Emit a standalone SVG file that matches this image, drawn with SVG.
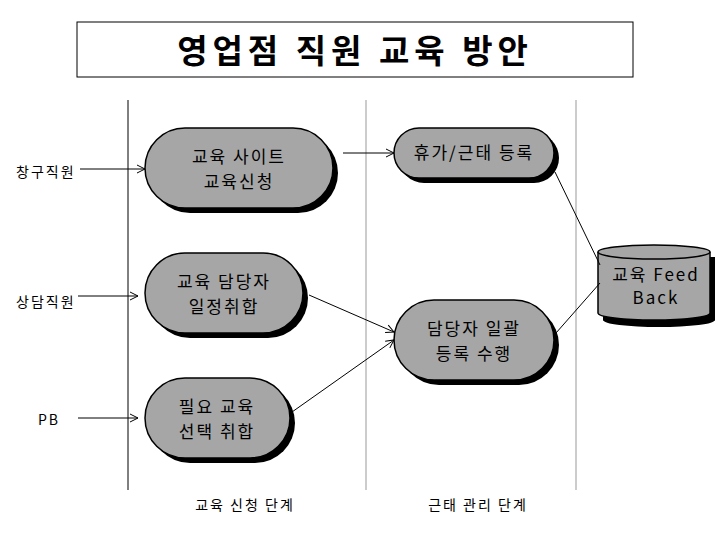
<svg xmlns="http://www.w3.org/2000/svg" width="720" height="540" viewBox="0 0 720 540">
<defs>
<marker id="ah" markerWidth="10" markerHeight="10" refX="9" refY="5" orient="auto" markerUnits="userSpaceOnUse"><path d="M1,1 L9,5 L1,9" fill="none" stroke="#000" stroke-width="1"/></marker>
</defs>
<style>
text{font-family:"Noto Sans CJK KR","Liberation Sans",sans-serif;fill:#000}
.n{fill:#a6a6a6;stroke:#000;stroke-width:1.5}
.s{fill:#000}
.t{font-size:17px;text-anchor:middle;letter-spacing:2px}
.l{font-size:14px;letter-spacing:2px}
.c{stroke:#000;stroke-width:1;fill:none}
</style>
<rect width="720" height="540" fill="#fff"/>
<g id="title"><rect x="77" y="22" width="556" height="55" fill="#fff" stroke="#000"/>
<text x="355" y="63" font-size="33" font-weight="bold" letter-spacing="5" text-anchor="middle">영업점 직원 교육 방안</text></g>
<g id="lanes">
<line x1="128" y1="100" x2="128" y2="490" stroke="#000"/>
<line x1="366" y1="100" x2="366" y2="490" stroke="#999"/>
<line x1="576" y1="100" x2="576" y2="490" stroke="#999"/>
<text x="245" y="510" class="l" text-anchor="middle">교육 신청 단계</text>
<text x="478" y="510" class="l" text-anchor="middle">근태 관리 단계</text>
</g>
<g id="actors">
<text x="16" y="177" class="l">창구직원</text>
<text x="16" y="307" class="l">상담직원</text>
<text x="38" y="425" class="l">PB</text>
</g>
<g id="n1"><rect class="s" x="150" y="133" width="188" height="80" rx="40"/><rect class="n" x="145" y="128" width="188" height="80" rx="40"/>
<text class="t" x="239" y="163">교육 사이트</text><text class="t" x="239" y="188">교육신청</text></g>
<g id="n2"><rect class="s" x="150" y="258" width="158" height="80" rx="40"/><rect class="n" x="145" y="253" width="158" height="80" rx="40"/>
<text class="t" x="224" y="288">교육 담당자</text><text class="t" x="224" y="313">일정취합</text></g>
<g id="n3"><rect class="s" x="150" y="383" width="145" height="80" rx="40"/><rect class="n" x="145" y="378" width="145" height="80" rx="40"/>
<text class="t" x="217" y="413">필요 교육</text><text class="t" x="217" y="438">선택 취합</text></g>
<g id="n4"><rect class="s" x="399" y="133" width="160" height="50" rx="25"/><rect class="n" x="394" y="128" width="160" height="50" rx="25"/>
<text class="t" x="474" y="159">휴가/근태 등록</text></g>
<g id="n5"><rect class="s" x="399" y="305" width="160" height="80" rx="40"/><rect class="n" x="394" y="300" width="160" height="80" rx="40"/>
<text class="t" x="474" y="335">담당자 일괄</text><text class="t" x="474" y="360">등록 수행</text></g>
<g id="n6">
<path class="s" d="M603,257 V320 A56,7 0 0 0 715,320 V257 Z"/>
<path class="n" d="M598,252 V313 A56,7 0 0 0 710,313 V252"/>
<ellipse class="n" cx="654" cy="252" rx="56" ry="7"/>
<text class="t" x="656" y="281" letter-spacing="1">교육 Feed</text><text class="t" x="656" y="304" letter-spacing="1">Back</text></g>
<g id="connectors">
<line class="c" x1="80" y1="169" x2="145" y2="169" marker-end="url(#ah)"/>
<line class="c" x1="78" y1="296" x2="138" y2="296" marker-end="url(#ah)"/>
<line class="c" x1="78" y1="418" x2="138" y2="418" marker-end="url(#ah)"/>
<line class="c" x1="343" y1="153" x2="394" y2="153" marker-end="url(#ah)"/>
<line class="c" x1="309" y1="295" x2="394" y2="332" marker-end="url(#ah)"/>
<line class="c" x1="292" y1="412" x2="394" y2="340" marker-end="url(#ah)"/>
<line class="c" x1="555" y1="172" x2="600" y2="265"/>
<line class="c" x1="556" y1="333" x2="600" y2="283"/>
</g>
</svg>
